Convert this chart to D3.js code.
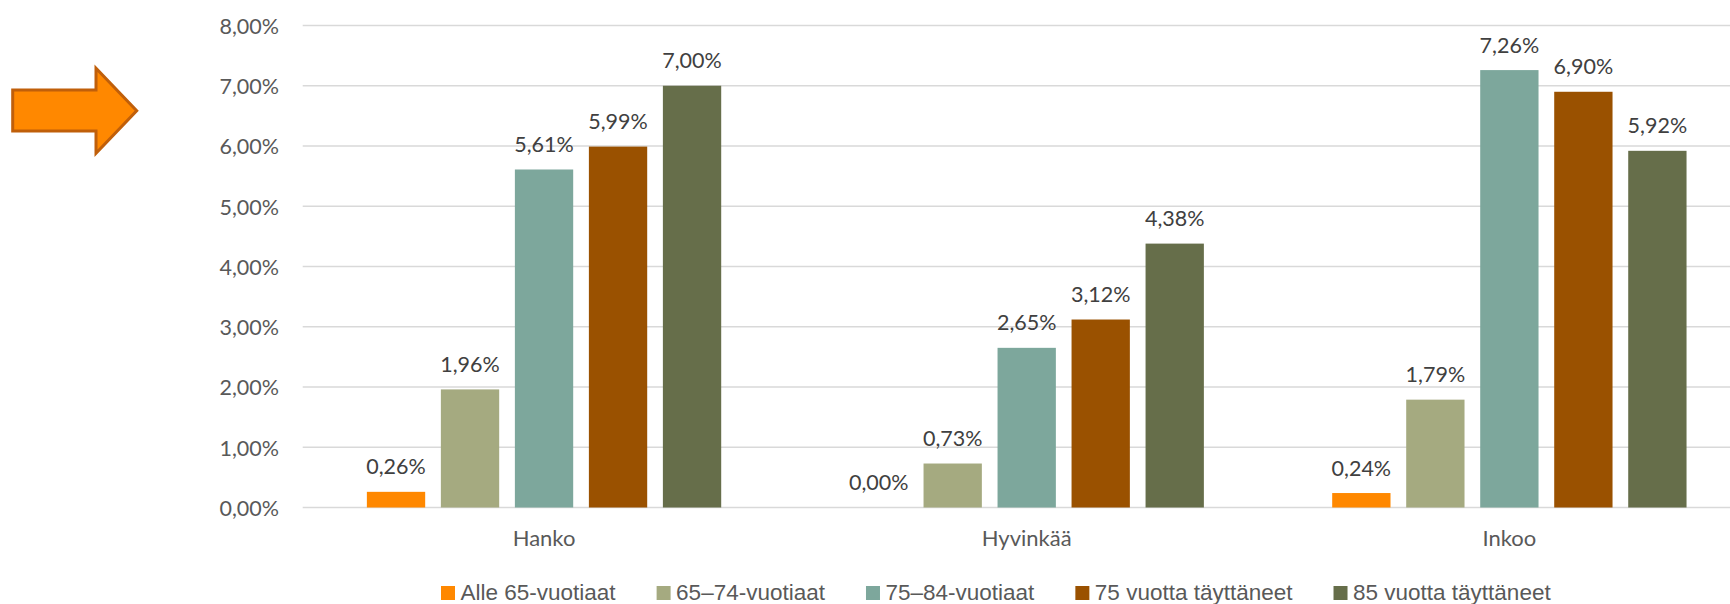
<!DOCTYPE html>
<html>
<head>
<meta charset="utf-8">
<script src="https://cdn.jsdelivr.net/npm/d3@7"></script>
<style>
  html, body { margin: 0; padding: 0; background: #fff; overflow: hidden; }
  svg { display: block; }
</style>
</head>
<body>
<svg id="chart" width="1730" height="604"></svg>
<script>
// ---- data ----
const categories = ["Hanko", "Hyvinkää", "Inkoo"];
const seriesNames = ["Alle 65-vuotiaat", "65–74-vuotiaat", "75–84-vuotiaat", "75 vuotta täyttäneet", "85 vuotta täyttäneet"];
const alle65 = [0.26, 0.00, 0.24];
const v65_74 = [1.96, 0.73, 1.79];
const v75_84 = [5.61, 2.65, 7.26];
const v75plus = [5.99, 3.12, 6.90];
const v85plus = [7.00, 4.38, 5.92];
const yTicks = [0, 1, 2, 3, 4, 5, 6, 7, 8];
const seriesColors = ["#FF8800", "#A5AA80", "#7DA79C", "#9A5100", "#666E4A"];

const seriesValues = [alle65, v65_74, v75_84, v75plus, v85plus];
const rows = [];
seriesNames.forEach((s, si) => {
  categories.forEach((c, ci) => rows.push({ series: s, category: c, value: seriesValues[si][ci], si }));
});

// ---- layout ----
const svg = d3.select("#chart");
const plotLeft = 302.7, plotRight = 1750.7, plotTop = 25.5, plotBottom = 507.5;

const locale = d3.formatLocale({ decimal: ",", thousands: " ", grouping: [3], currency: ["", "€"] });
const fmt = v => locale.format(".2f")(v) + "%";

const x0 = d3.scaleBand().domain(categories).range([plotLeft, plotRight]).padding(0);
const x1 = d3.scaleBand().domain(seriesNames).range([0, x0.bandwidth()]).paddingInner(0.212).paddingOuter(0.867);
const y = d3.scaleLinear().domain([0, 8]).range([plotBottom, plotTop]);
const color = d3.scaleOrdinal().domain(seriesNames).range(seriesColors);

// gridlines
svg.append("g").selectAll("line").data(yTicks).join("line")
  .attr("x1", plotLeft).attr("x2", 1730)
  .attr("y1", d => y(d)).attr("y2", d => y(d))
  .attr("stroke", "#D9D9D9").attr("stroke-width", 1.6);

// y axis labels
const yAxis = d3.axisLeft(y).tickValues(yTicks).tickFormat(fmt).tickSize(0).tickPadding(0);
const yg = svg.append("g").attr("transform", `translate(279,0)`).call(yAxis);
yg.select(".domain").remove();
yg.selectAll("text").attr("font-family", "Lato, 'Open Sans', sans-serif").attr("font-size", 21.5)
  .attr("fill", "#595959").attr("dy", "0.36em");

// bars
svg.append("g").selectAll("rect").data(rows).join("rect")
  .attr("x", d => x0(d.category) + x1(d.series))
  .attr("width", x1.bandwidth())
  .attr("y", d => y(d.value))
  .attr("height", d => y(0) - y(d.value))
  .attr("fill", d => color(d.series));

// data labels
svg.append("g").selectAll("text").data(rows).join("text")
  .attr("x", d => x0(d.category) + x1(d.series) + x1.bandwidth() / 2)
  .attr("y", d => y(d.value) - 17.5)
  .attr("text-anchor", "middle")
  .attr("font-family", "Lato, 'Open Sans', sans-serif").attr("font-size", 21.5)
  .attr("fill", "#404040")
  .text(d => fmt(d.value));

// x axis labels
const xAxis = d3.axisBottom(x0).tickSize(0).tickPadding(0);
const xg = svg.append("g").attr("transform", `translate(0,546)`).call(xAxis);
xg.select(".domain").remove();
xg.selectAll("text").attr("font-family", "Lato, 'Open Sans', sans-serif").attr("font-size", 22)
  .attr("fill", "#595959").attr("dy", 0);

// legend
const legend = svg.append("g");
let lx = 441;
const legendBaseline = 600;
seriesNames.forEach((s, i) => {
  legend.append("rect").attr("x", lx).attr("y", 586).attr("width", 14).attr("height", 14).attr("fill", seriesColors[i]);
  const t = legend.append("text").attr("x", lx + 19.5).attr("y", legendBaseline)
    .attr("font-family", "'Liberation Sans', Arial, sans-serif")
    .attr("font-size", 22.5)
    .attr("fill", "#595959").text(s);
  const w = t.node().getComputedTextLength();
  lx = lx + 19.5 + w + 41;
});

// decorative arrow
svg.append("path")
  .attr("d", "M12.7,90 L96,90 L96,68.3 L136.7,110.8 L96,153.3 L96,131 L12.7,131 Z")
  .attr("fill", "#FF8800").attr("stroke", "#C05F0A").attr("stroke-width", 3).attr("stroke-linejoin", "miter");
</script>
</body>
</html>
